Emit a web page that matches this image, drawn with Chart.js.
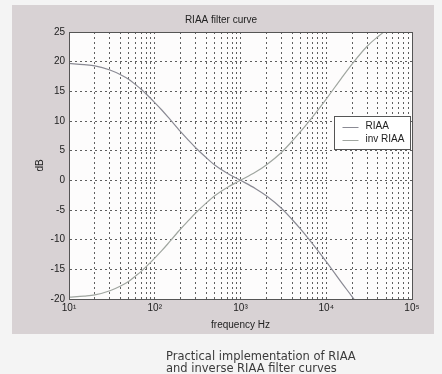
<!DOCTYPE html>
<html>
<head>
<meta charset="utf-8">
<script src="https://cdn.jsdelivr.net/npm/chart.js@4/dist/chart.umd.min.js"></script>
<style>
  html, body { margin: 0; padding: 0; background: #f4f4f4; }
  #wrap { position: relative; width: 442px; height: 374px; overflow: hidden; }
  #panel { position: absolute; left: 12px; top: 5px; width: 422px; height: 329px; background: #d8d2d4; }
  #c { position: absolute; left: 0; top: 0; }
  #caption { position: absolute; left: 166px; top: 350px; font: 11.5px "DejaVu Sans", sans-serif; line-height: 12px; color: #3a3a3a; white-space: nowrap; }
</style>
</head>
<body>
<div id="wrap">
  <div id="panel"></div>
  <canvas id="c" width="442" height="374"></canvas>
  <div id="caption">Practical implementation of RIAA<br>and inverse RIAA filter curves</div>
</div>
<script>
// ---- data ----
const chartTitle = 'RIAA filter curve';
const xTitle = 'frequency Hz';
const yTitle = 'dB';
const seriesNames = ['RIAA', 'inv RIAA'];
const freqs   = [10, 15, 20, 30, 40, 50, 60, 70, 80, 100, 120, 150, 200, 250, 300, 400, 500, 700, 1000, 1500, 2000, 3000, 4000, 5000, 7000, 10000, 15000, 20000, 30000, 40000, 50000];
const riaa    = [19.7, 19.5, 19.3, 18.6, 17.8, 17.0, 16.1, 15.3, 14.5, 13.1, 11.9, 10.3, 8.2, 6.7, 5.5, 3.8, 2.6, 1.2, 0, -1.4, -2.6, -4.7, -6.6, -8.2, -10.8, -13.7, -17.2, -19.6, -23.1, -25.5, -27.4];
const invRiaa = [-19.7, -19.5, -19.3, -18.6, -17.8, -17.0, -16.1, -15.3, -14.5, -13.1, -11.9, -10.3, -8.2, -6.7, -5.5, -3.8, -2.6, -1.2, 0, 1.4, 2.6, 4.7, 6.6, 8.2, 10.8, 13.7, 17.2, 19.6, 22.6, 24.2, 25.3];
const decades = [10, 100, 1000, 10000, 100000];
const xTickLabels = ['10\u00B9', '10\u00B2', '10\u00B3', '10\u2074', '10\u2075'];
const minorSteps = [1, 2, 3, 4, 5, 6, 7, 8, 9];
const yMin = -20, yMax = 25, yStep = 5;

// ---- build ----
const xTickValues = [];
decades.forEach((d, i) => {
  if (i < decades.length - 1) minorSteps.forEach(m => xTickValues.push(d * m));
  else xTickValues.push(d);
});
const toPts = arr => freqs.map((f, i) => ({ x: f, y: arr[i] }));

const gridCol = 'rgba(55,55,55,0.8)';
const axisFont = { family: '"Liberation Sans", Arial, sans-serif', size: 10 };

const framePlugin = {
  id: 'frame',
  beforeDraw(chart) {
    const { ctx, chartArea: a } = chart;
    ctx.save();
    ctx.fillStyle = '#fdfcfc';
    ctx.fillRect(a.left, a.top, a.right - a.left, a.bottom - a.top);
    ctx.restore();
  },
  afterDraw(chart) {
    const { ctx, chartArea: a } = chart;
    ctx.save();
    ctx.strokeStyle = '#555';
    ctx.lineWidth = 1;
    ctx.strokeRect(Math.round(a.left) + 0.5, Math.round(a.top) + 0.5, Math.round(a.right - a.left), Math.round(a.bottom - a.top));
    // legend box inside plot (upper right)
    const bw = 76, bh = 33;
    const bx = Math.round(a.right) - bw - 2 + 0.5, by = Math.round(a.top) + 84 + 0.5;
    ctx.fillStyle = '#ffffff';
    ctx.fillRect(bx, by, bw, bh);
    ctx.strokeStyle = '#555';
    ctx.strokeRect(bx, by, bw, bh);
    ctx.font = '10px "Liberation Sans", Arial, sans-serif';
    ctx.textBaseline = 'middle';
    chart.data.datasets.forEach((ds, i) => {
      const yy = by + 10 + i * 13;
      ctx.strokeStyle = ds.borderColor;
      ctx.beginPath();
      ctx.moveTo(bx + 8, Math.round(yy) + 0.5);
      ctx.lineTo(bx + 24, Math.round(yy) + 0.5);
      ctx.stroke();
      ctx.fillStyle = '#222';
      ctx.fillText(ds.label, bx + 31, yy);
    });
    ctx.restore();
  }
};

new Chart(document.getElementById('c'), {
  type: 'line',
  data: {
    datasets: [
      { label: seriesNames[0], data: toPts(riaa), borderColor: '#8a8a94', borderWidth: 1.2, pointRadius: 0, cubicInterpolationMode: 'monotone', fill: false },
      { label: seriesNames[1], data: toPts(invRiaa), borderColor: '#a0a6a0', borderWidth: 1.2, pointRadius: 0, cubicInterpolationMode: 'monotone', fill: false }
    ]
  },
  options: {
    responsive: false,
    animation: false,
    devicePixelRatio: 1,
    layout: { padding: { left: 30, right: 30, top: 0, bottom: 0 } },
    plugins: {
      legend: { display: false },
      tooltip: { enabled: false },
      title: {
        display: true, text: chartTitle, color: '#222',
        font: { family: '"Liberation Sans", Arial, sans-serif', size: 10, weight: 'normal' },
        padding: { top: 14, bottom: 6 }
      }
    },
    scales: {
      x: {
        type: 'logarithmic', min: 10, max: 100000,
        afterBuildTicks: s => { s.ticks = xTickValues.map(v => ({ value: v })); },
        afterFit: s => { s.height = 75; },
        ticks: {
          autoSkip: false, maxRotation: 0, minRotation: 0, padding: 3, color: '#222', font: axisFont,
          callback: v => { const i = decades.indexOf(v); return i >= 0 ? xTickLabels[i] : ''; }
        },
        grid: { color: gridCol, lineWidth: 1, drawTicks: false },
        border: { display: true, color: '#555', dash: [2, 3] },
        title: { display: true, text: xTitle, color: '#222', font: axisFont, padding: { top: 0, bottom: 43 } }
      },
      y: {
        min: yMin, max: yMax,
        afterFit: s => { s.width = 39; },
        ticks: { stepSize: yStep, padding: 4, color: '#222', font: axisFont },
        grid: { color: gridCol, lineWidth: 1, drawTicks: false },
        border: { display: true, color: '#555', dash: [2, 3] },
        title: { display: true, text: yTitle, color: '#222', font: axisFont, padding: { top: 4, bottom: 0 } }
      }
    }
  },
  plugins: [framePlugin]
});
</script>
</body>
</html>
